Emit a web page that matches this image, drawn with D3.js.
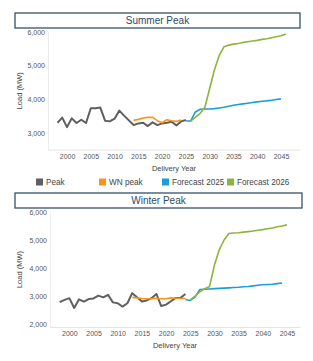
<!DOCTYPE html>
<html>
<head>
<meta charset="utf-8">
<script src="https://cdn.jsdelivr.net/npm/d3@7"></script>
<style>
  body { margin: 0; background: #fff; }
  text { font-family: "Liberation Sans Narrow", "Liberation Sans", Arial, sans-serif; }
</style>
</head>
<body>
<script>
// ---- data ----
var seriesNames = ["Peak", "WN peak", "Forecast 2025", "Forecast 2026"];
var seriesColors = ["#5f5f5f", "#f7941d", "#1a9fdc", "#8cb43f"];
var xTicks = [2000, 2005, 2010, 2015, 2020, 2025, 2030, 2035, 2040, 2045];

// summer
var summerPeakYears = [1998, 1999, 2000, 2001, 2002, 2003, 2004, 2005, 2006, 2007, 2008, 2009, 2010, 2011, 2012, 2013, 2014, 2015, 2016, 2017, 2018, 2019, 2020, 2021, 2022, 2023, 2024, 2025];
var summerPeak = [3300, 3450, 3170, 3430, 3290, 3390, 3290, 3730, 3730, 3750, 3360, 3340, 3420, 3660, 3510, 3370, 3230, 3280, 3300, 3200, 3310, 3230, 3280, 3300, 3330, 3220, 3340, 3380];
var summerWnYears = [2014, 2015, 2016, 2017, 2018, 2019, 2020, 2021, 2022, 2023, 2024];
var summerWn = [3370, 3400, 3440, 3460, 3460, 3360, 3300, 3390, 3360, 3340, 3380];
var summerF25Years = [2025, 2026, 2027, 2028, 2029, 2030, 2031, 2032, 2033, 2034, 2035, 2036, 2037, 2038, 2039, 2040, 2041, 2042, 2043, 2044, 2045];
var summerF25 = [3350, 3350, 3620, 3700, 3710, 3710, 3720, 3740, 3760, 3790, 3820, 3840, 3860, 3880, 3900, 3920, 3940, 3950, 3970, 3990, 4010];
var summerF26Years = [2026, 2027, 2028, 2029, 2030, 2031, 2032, 2033, 2034, 2035, 2036, 2037, 2038, 2039, 2040, 2041, 2042, 2043, 2044, 2045, 2046];
var summerF26 = [3350, 3460, 3580, 3760, 4320, 4870, 5300, 5560, 5610, 5640, 5660, 5690, 5710, 5730, 5750, 5780, 5800, 5830, 5860, 5890, 5940];
var summerYTicks = [3000, 4000, 5000, 6000];

// winter
var winterPeakYears = [1998, 1999, 2000, 2001, 2002, 2003, 2004, 2005, 2006, 2007, 2008, 2009, 2010, 2011, 2012, 2013, 2014, 2015, 2016, 2017, 2018, 2019, 2020, 2021, 2022, 2023, 2024];
var winterPeak = [2780, 2860, 2920, 2570, 2880, 2800, 2890, 2910, 3010, 2950, 3040, 2770, 2740, 2620, 2740, 3100, 2950, 2800, 2840, 2920, 3070, 2640, 2690, 2810, 2930, 2930, 3070];
var winterWnYears = [2013, 2014, 2015, 2016, 2017, 2018, 2019, 2020, 2021, 2022, 2023, 2024];
var winterWn = [2950, 2930, 2910, 2900, 2900, 2920, 2900, 2900, 2930, 2920, 2910, 2910];
var winterF25Years = [2024, 2025, 2026, 2027, 2028, 2029, 2030, 2031, 2032, 2033, 2034, 2035, 2036, 2037, 2038, 2039, 2040, 2041, 2042, 2043, 2044];
var winterF25 = [2870, 2840, 2960, 3230, 3240, 3250, 3260, 3270, 3280, 3290, 3300, 3310, 3330, 3340, 3360, 3380, 3400, 3410, 3420, 3440, 3460];
var winterF26Years = [2025, 2026, 2027, 2028, 2029, 2030, 2031, 2032, 2033, 2034, 2035, 2036, 2037, 2038, 2039, 2040, 2041, 2042, 2043, 2044, 2045];
var winterF26 = [2860, 2990, 3150, 3260, 3340, 4100, 4650, 5000, 5230, 5250, 5260, 5280, 5300, 5320, 5350, 5370, 5400, 5430, 5470, 5500, 5540];
var winterYTicks = [2000, 3000, 4000, 5000, 6000];

var svg = d3.select("body").append("svg")
  .attr("width", 313)
  .attr("height", 361);

function zip(years, vals) {
  return years.map(function(y, i) { return {year: y, value: vals[i]}; });
}

function drawChart(cfg) {
  // title box
  svg.append("rect")
    .attr("x", cfg.box[0]).attr("y", cfg.box[1])
    .attr("width", cfg.box[2]).attr("height", cfg.box[3])
    .attr("fill", "#fff")
    .attr("stroke", "#34526a")
    .attr("stroke-width", 1.3);
  svg.append("text")
    .attr("x", cfg.box[0] + cfg.box[2] / 2)
    .attr("y", cfg.box[1] + cfg.box[3] / 2 + 3.5)
    .attr("text-anchor", "middle")
    .style("font-size", "10px")
    .style("fill", "#2e4a63")
    .text(cfg.title);

  var x = d3.scaleLinear().domain(cfg.xDomain).range([cfg.left, cfg.right]);
  var y = d3.scaleLinear().domain(cfg.yDomain).range([cfg.bottom, cfg.top]);

  // axes
  var xAxis = svg.append("g")
    .attr("transform", "translate(0," + cfg.bottom + ")")
    .call(d3.axisBottom(x).tickValues(xTicks).tickFormat(d3.format("d")).tickSize(0).tickPadding(4));
  xAxis.select(".domain").attr("stroke", "#e4e4e4");
  xAxis.selectAll("text").style("font-size", "7px").style("fill", "#555")
    .style("font-family", "'Liberation Sans Narrow', 'Liberation Sans', Arial, sans-serif");

  var yAxis = svg.append("g")
    .attr("transform", "translate(" + cfg.left + ",0)")
    .call(d3.axisLeft(y).tickValues(cfg.yTicks).tickFormat(d3.format(",")).tickSize(0).tickPadding(3));
  yAxis.select(".domain").attr("stroke", "#ececec");
  yAxis.selectAll("text").style("font-size", "7px").style("fill", "#555")
    .style("font-family", "'Liberation Sans Narrow', 'Liberation Sans', Arial, sans-serif");

  svg.append("text")
    .attr("transform", "translate(22," + ((cfg.top + cfg.bottom) / 2) + ") rotate(-90)")
    .attr("text-anchor", "middle")
    .style("font-size", "7.5px")
    .style("fill", "#444")
    .text("Load (MW)");

  svg.append("text")
    .attr("x", (cfg.left + cfg.right) / 2)
    .attr("y", cfg.bottom + 21)
    .attr("text-anchor", "middle")
    .style("font-size", "7.5px")
    .style("fill", "#444")
    .text("Delivery Year");

  var line = d3.line()
    .x(function(d) { return x(d.year); })
    .y(function(d) { return y(d.value); });

  cfg.series.forEach(function(s, i) {
    svg.append("path")
      .datum(s)
      .attr("fill", "none")
      .attr("stroke", seriesColors[i])
      .attr("stroke-width", i == 0 ? 2 : 1.6)
      .attr("stroke-linejoin", "round")
      .attr("d", line);
  });
}

drawChart({
  title: "Summer Peak",
  box: [15, 13, 285, 15],
  left: 48, right: 300, top: 32, bottom: 149.6,
  xDomain: [1996, 2049],
  yDomain: [2500, 6000],
  yTicks: summerYTicks,
  series: [zip(summerPeakYears, summerPeak), zip(summerWnYears, summerWn), zip(summerF25Years, summerF25), zip(summerF26Years, summerF26)]
});

drawChart({
  title: "Winter Peak",
  box: [15, 193, 287, 15],
  left: 50, right: 300, top: 212, bottom: 327,
  xDomain: [1996, 2047.7],
  yDomain: [1890, 6000],
  yTicks: winterYTicks,
  series: [zip(winterPeakYears, winterPeak), zip(winterWnYears, winterWn), zip(winterF25Years, winterF25), zip(winterF26Years, winterF26)]
});

// legend (between the charts)
var legendX = [36, 99, 162, 227];
var legend = svg.append("g");
seriesNames.forEach(function(name, i) {
  legend.append("rect")
    .attr("x", legendX[i]).attr("y", 178.5)
    .attr("width", 7).attr("height", 7)
    .attr("fill", seriesColors[i]);
  legend.append("text")
    .attr("x", legendX[i] + 10).attr("y", 185)
    .style("font-size", "8.2px")
    .style("fill", "#444")
    .text(name);
});
</script>
</body>
</html>
